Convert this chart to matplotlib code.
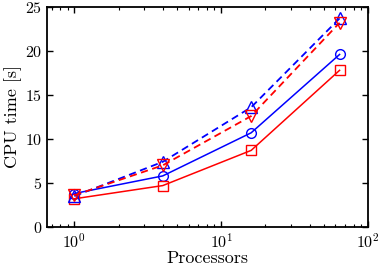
import matplotlib
matplotlib.use("Agg")
import matplotlib.pyplot as plt

plt.rcParams['font.family'] = 'serif'
plt.rcParams['font.serif'] = ['cmr10']
plt.rcParams['mathtext.fontset'] = 'cm'
plt.rcParams['axes.formatter.use_mathtext'] = True
plt.rcParams['axes.linewidth'] = 1.3

procs = [1, 4, 16, 64]
blue_circle = [3.8, 5.8, 10.7, 19.6]
red_square = [3.2, 4.7, 8.7, 17.8]
blue_tri_up = [3.5, 7.4, 13.6, 23.7]
red_tri_down = [3.6, 7.0, 12.6, 23.2]

fig = plt.figure(figsize=(3.81, 2.67), dpi=100)
ax = fig.add_axes([0.123, 0.150, 0.843, 0.824])

ms = 7
ax.plot(procs, blue_circle, '-', color='b', marker='o', mfc='none', mec='b', ms=ms, lw=1.1)
ax.plot(procs, red_square, '-', color='r', marker='s', mfc='none', mec='r', ms=ms, lw=1.1)
ax.plot(procs, blue_tri_up, '--', color='b', marker='^', mfc='none', mec='b', ms=ms + 1, lw=1.3, dashes=(4, 2.5))
ax.plot(procs, red_tri_down, '--', color='r', marker='v', mfc='none', mec='r', ms=ms + 1, lw=1.3, dashes=(4, 2.5))

ax.set_xscale('log')
ax.set_xlim(0.65, 100)
ax.set_ylim(0, 25)
ax.set_yticks([0, 5, 10, 15, 20, 25])
ax.tick_params(which='both', direction='in', top=True, right=True, labelsize=11.5)
ax.tick_params(which='major', length=4, width=1)
ax.tick_params(which='minor', length=2, width=0.8)
ax.set_xlabel('Processors', fontsize=13, labelpad=0)
ax.set_ylabel('CPU time [s]', fontsize=13, labelpad=2)

fig.savefig('out.png', dpi=100)
